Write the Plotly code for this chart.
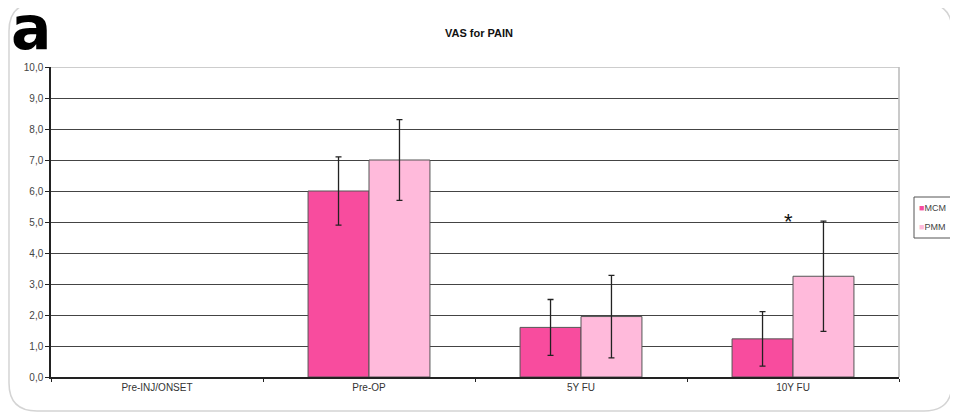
import plotly.graph_objects as go

categories = ["Pre-INJ/ONSET", "Pre-OP", "5Y FU", "10Y FU"]
mcm_values = [None, 6.0, 1.6, 1.23]
mcm_err = [None, 1.1, 0.9, 0.88]
pmm_values = [None, 7.0, 1.95, 3.25]
pmm_err = [None, 1.3, 1.33, 1.78]
series_names = ["MCM", "PMM"]
y_ticks = [0, 1, 2, 3, 4, 5, 6, 7, 8, 9, 10]

MCM_COLOR = "#F84C9E"
PMM_COLOR = "#FFBADB"

# page offset of the figure (browser body margin)
OFF = 8
PAGE_W, PAGE_H = 958, 414
W, H = PAGE_W - OFF, PAGE_H - OFF
# plot area in page pixels
PL, PR, PT, PB = 51, 899, 67, 377
L, T = PL - OFF, PT - OFF
R, B = W - (PR - OFF), H - (PB - OFF)
PW, PH = PR - PL, PB - PT

def px_x(px):
    return (px - PL) / PW

def px_y(py):
    return (PB - py) / PH

fig = go.Figure()
fig.add_trace(go.Bar(
    x=categories, y=mcm_values, name=series_names[0],
    marker=dict(color=MCM_COLOR, line=dict(color="#555555", width=1)),
    error_y=dict(type="data", array=mcm_err, visible=True, color="#222222", thickness=1.3, width=3),
    showlegend=False,
))
fig.add_trace(go.Bar(
    x=categories, y=pmm_values, name=series_names[1],
    marker=dict(color=PMM_COLOR, line=dict(color="#555555", width=1)),
    error_y=dict(type="data", array=pmm_err, visible=True, color="#222222", thickness=1.3, width=3),
    showlegend=False,
))

font_family = "Liberation Sans, Arial, sans-serif"

fig.update_layout(
    width=W, height=H,
    margin=dict(l=L, r=R, t=T, b=B, autoexpand=False),
    paper_bgcolor="white", plot_bgcolor="white",
    barmode="group", bargap=0.425, bargroupgap=0,
    separators=",.",
    font=dict(family=font_family, color="#333333", size=10),
    title=dict(text="<b>VAS for PAIN</b>", x=(479 - OFF) / W,
               xanchor="center", y=1 - (33 - OFF) / H, yanchor="middle",
               font=dict(size=11, color="#111111", family=font_family)),
    showlegend=False,
)

fig.update_xaxes(
    type="category", showgrid=False, showline=True, linecolor="#222222", linewidth=1.5,
    ticks="outside", tickson="boundaries", ticklen=3, tickcolor="#222222",
    tickfont=dict(size=10, color="#333333"),
)
fig.update_yaxes(
    range=[0, 10], tickvals=y_ticks, tickformat=".1f",
    showgrid=True, gridcolor="#444444", gridwidth=1.4,
    showline=True, linecolor="#222222", linewidth=1.5,
    ticks="outside", ticklen=4, tickcolor="#222222",
    tickfont=dict(size=10, color="#444444"), zeroline=False,
)

shapes = []
shapes.append(dict(type="line", xref="paper", yref="y", x0=0, x1=1, y0=10, y1=10,
                   line=dict(color="#bdbdbd", width=1.6), layer="above"))
shapes.append(dict(type="line", xref="paper", yref="paper", x0=1, x1=1, y0=0, y1=1,
                   line=dict(color="#bdbdbd", width=1.6), layer="above"))
shapes.append(dict(type="rect", xref="paper", yref="paper",
                   x0=px_x(914), x1=px_x(964), y0=px_y(238), y1=px_y(197),
                   line=dict(color="#555555", width=1), fillcolor="white"))
x0p, x1p, y0p, y1p, r = 9, 952, 3, 411, 28
def P(px, py):
    return f"{px_x(px):.5f},{px_y(py):.5f}"
path = (f"M {P(x0p + r, y0p)} L {P(x1p - r, y0p)} Q {P(x1p, y0p)} {P(x1p, y0p + r)} "
        f"L {P(x1p, y1p - r)} Q {P(x1p, y1p)} {P(x1p - r, y1p)} "
        f"L {P(x0p + r, y1p)} Q {P(x0p, y1p)} {P(x0p, y1p - r)} "
        f"L {P(x0p, y0p + r)} Q {P(x0p, y0p)} {P(x0p + r, y0p)} Z")
shapes.append(dict(type="path", xref="paper", yref="paper", path=path,
                   line=dict(color="#d4d4d4", width=1.5), layer="below"))
fig.update_layout(shapes=shapes)

annotations = []
annotations.append(dict(text="<b>a</b>", xref="paper", yref="paper", x=px_x(9), y=px_y(28),
                        xanchor="left", yanchor="middle", showarrow=False,
                        font=dict(size=60, color="black", family="DejaVu Sans, sans-serif")))
annotations.append(dict(text="*", xref="x", yref="y", x="10Y FU", y=4.55, xshift=-5,
                        yanchor="bottom", showarrow=False,
                        font=dict(size=22, color="#111111", family=font_family)))
annotations.append(dict(text=f'<span style="color:{MCM_COLOR}">■</span>{series_names[0]}',
                        xref="paper", yref="paper", x=px_x(917), y=px_y(208),
                        xanchor="left", yanchor="middle", showarrow=False,
                        font=dict(size=9, color="#444444", family=font_family)))
annotations.append(dict(text=f'<span style="color:{PMM_COLOR}">■</span>{series_names[1]}',
                        xref="paper", yref="paper", x=px_x(917), y=px_y(227),
                        xanchor="left", yanchor="middle", showarrow=False,
                        font=dict(size=9, color="#444444", family=font_family)))
fig.update_layout(annotations=annotations)

fig.write_html("out.html")
